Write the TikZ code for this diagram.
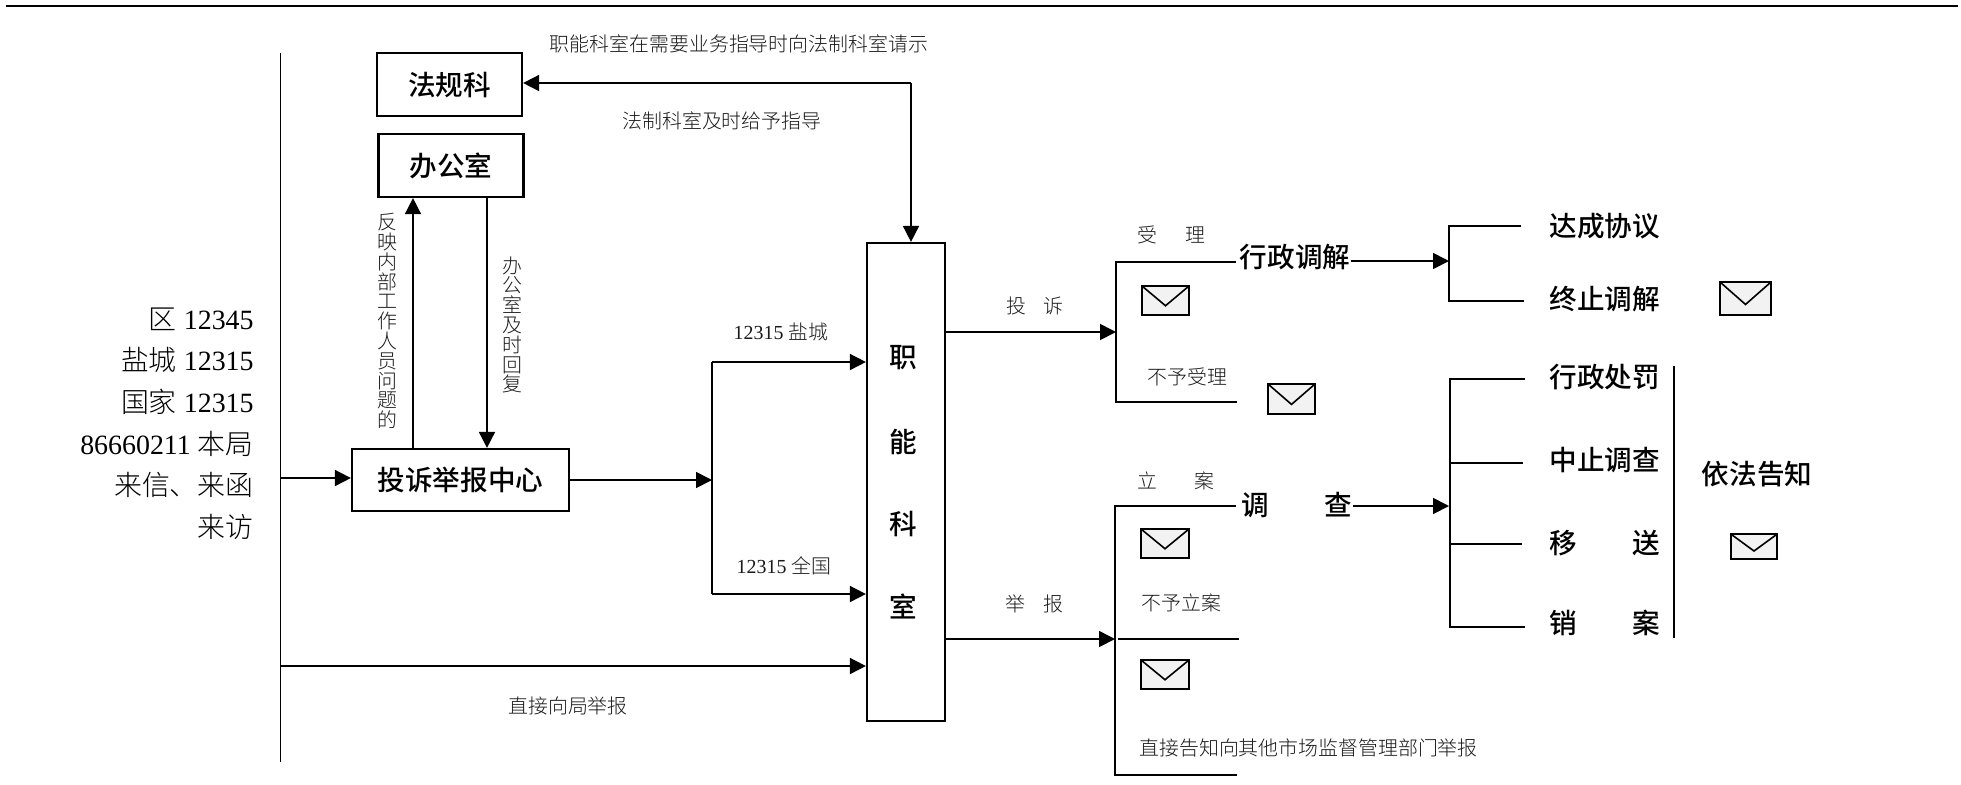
\documentclass[tikz,border=0pt]{standalone}
\usepackage{fontspec}
\setmainfont{Liberation Serif}
\newfontfamily\cjkbig{Noto Sans CJK SC Medium}
\newfontfamily\cjksmall{Noto Sans CJK SC Light}
\usetikzlibrary{arrows.meta,calc}
\newcommand\bigtxt{\fontsize{13.8pt}{16pt}\selectfont\cjkbig}
\newcommand\smalltxt{\fontsize{9.95pt}{12pt}\selectfont\cjksmall}
\tikzset{
  line/.style={draw=black,line width=0.85pt},
  arr/.style={line,-{Triangle[length=8pt,width=8pt]}},
  boxnode/.style={draw=black,line width=1.1pt,fill=white,inner sep=0pt,font=\bigtxt},
  big/.style={inner sep=0pt,font=\bigtxt},
  small/.style={inner sep=0pt,font=\smalltxt,text=black!90},
  envelope/.style n args={2}{draw=black,line width=1.1pt,fill=black!5,inner sep=0pt,
    minimum width=#1*0.5pt,minimum height=#2*0.5pt,
    path picture={\draw[line width=0.8pt]
      (path picture bounding box.north west)
      -- ($(path picture bounding box.south)!0.32!(path picture bounding box.north)$)
      -- (path picture bounding box.north east);}},
}
\begin{document}
\begin{tikzpicture}[x=0.5pt,y=-0.5pt]
\useasboundingbox (0,0) rectangle (1961,784);
\begin{scope}[yshift=-0.5pt]
\coordinate (ruleL) at (6,4.5);
\coordinate (ruleR) at (1958,4.5);
\draw[line width=1pt] (ruleL) -- (ruleR);

% source bar
\coordinate (srcT) at (280.5,52);
\coordinate (srcB) at (280.5,761);
\coordinate (srcA) at (280.5,477);
\coordinate (srcC) at (280.5,665);
\draw[line] (srcT) -- (srcB);
\node[anchor=east,inner sep=0pt,align=right,font=\fontsize{13.95pt}{20.8pt}\selectfont] (sources) at (254,422.5)
 {{\cjksmall 区} 12345\\{\cjksmall 盐城} 12315\\{\cjksmall 国家} 12315\\86660211 {\cjksmall 本局}\\{\cjksmall 来信、来函}\\{\cjksmall 来访}};

% boxes
\node[boxnode,minimum width=72.5pt,minimum height=31.5pt] (fagui) at (449.5,83.5) {法规科};
\node[boxnode,minimum width=72.5pt,minimum height=31.5pt] (bangong) at (451,164.5) {办公室};
\node[boxnode,minimum width=108.5pt,minimum height=31pt] (center) at (460.5,479) {投诉举报中心};
\node[boxnode,minimum width=39pt,minimum height=239pt] (zhineng) at (906,481) {};
\node[big] (zn1) at (903,357) {职};
\node[big] (zn2) at (903,441) {能};
\node[big] (zn3) at (903,523) {科};
\node[big] (zn4) at (903,605) {室};

% left connectors
\draw[arr] (srcA) -- (center.west |- srcA);
\coordinate (upX) at (413,300);
\coordinate (downX) at (487,300);
\draw[arr] (center.north -| upX) -- (bangong.south -| upX);
\draw[arr] (bangong.south -| downX) -- (center.north -| downX);
\node[small,align=center,font=\fontsize{9.95pt}{9.9pt}\selectfont\cjksmall,anchor=north] (vleft) at (387,212) {反\\映\\内\\部\\工\\作\\人\\员\\问\\题\\的};
\node[small,align=center,font=\fontsize{9.95pt}{9.9pt}\selectfont\cjksmall,anchor=north] (vright) at (512,255) {办\\公\\室\\及\\时\\回\\复};

% law link
\coordinate (lawC) at (911,82);
\draw[arr] (lawC) -- (fagui.east |- lawC);
\draw[arr] (lawC) -- (zhineng.north -| lawC);
\node[small,anchor=west] (t1) at (549.5,43) {职能科室在需要业务指导时向法制科室请示};
\node[small,anchor=west] (t2) at (622,120) {法制科室及时给予指导};

% split to zhineng
\coordinate (spT) at (712,361);
\coordinate (spM) at (712,479);
\coordinate (spB) at (712,593);
\draw[line] (spT) -- (spB);
\draw[arr] (center.east |- spM) -- (spM);
\draw[arr] (spT) -- (zhineng.west |- spT);
\draw[arr] (spB) -- (zhineng.west |- spB);
\draw[arr] (srcC) -- (zhineng.west |- srcC);
\node[inner sep=0pt,font=\fontsize{9.95pt}{12pt}\selectfont,text=black!90] (l12315a) at (781,331) {12315 {\cjksmall 盐城}};
\node[inner sep=0pt,font=\fontsize{9.95pt}{12pt}\selectfont,text=black!90] (l12315b) at (784,565) {12315 {\cjksmall 全国}};
\node[small] (direct) at (568,705) {直接向局举报};

% complaint branch
\coordinate (cpT) at (1116,261);
\coordinate (cpM) at (1116,331);
\coordinate (cpB) at (1116,401);
\coordinate (cpTe) at (1236,261);
\coordinate (cpBe) at (1237,401);
\draw[line] (cpTe) -- (cpT) -- (cpB) -- (cpBe);
\draw[arr] (zhineng.east |- cpM) -- (cpM);
\node[small] (tousu) at (1035,305) {投\hspace{9pt}诉};
\node[small] (shouli) at (1171,234) {受\hspace{14pt}理};
\node[small] (bushou) at (1187.5,376) {不予受理};
\node[envelope={47}{29}] (env1) at (1165.5,299.5) {};
\node[envelope={47}{30}] (env2) at (1291.5,398) {};
\node[big] (tiaojie) at (1295,256) {行政调解};

% mediation results
\coordinate (mdT) at (1449,225);
\coordinate (mdM) at (1449,260);
\coordinate (mdB) at (1449,300);
\coordinate (mdTe) at (1521,225);
\coordinate (mdBe) at (1524,300);
\draw[line] (mdTe) -- (mdT) -- (mdB) -- (mdBe);
\draw[arr] (tiaojie.east |- mdM) -- (mdM);
\node[big,anchor=west] (r1) at (1549,225) {达成协议};
\node[big,anchor=west] (r2) at (1549,298) {终止调解};
\node[envelope={51}{33}] (env3) at (1745.5,297.5) {};

% report branch
\coordinate (rpT) at (1115,505);
\coordinate (rpM) at (1115,638);
\coordinate (rpB) at (1115,774);
\coordinate (rpTe) at (1236,505);
\coordinate (rpMs) at (1118,638);
\coordinate (rpMe) at (1239,638);
\coordinate (rpBe) at (1237,774);
\draw[line] (rpTe) -- (rpT) -- (rpB) -- (rpBe);
\draw[line] (rpMs) -- (rpMe);
\draw[arr] (zhineng.east |- rpM) -- (rpM);
\node[small] (jubao) at (1034.5,603) {举\hspace{9pt}报};
\node[small] (lian) at (1176,480) {立\hspace{19pt}案};
\node[small,anchor=west] (bulian) at (1141,602) {不予立案};
\node[small,anchor=west] (zhijie) at (1139,747) {直接告知向其他市场监督管理部门举报};
\node[envelope={48}{29}] (env4) at (1165,542.5) {};
\node[envelope={48}{29}] (env5) at (1165,673.5) {};
\node[big] (diaocha) at (1297,504) {调\hspace{28pt}查};

% investigation results
\coordinate (ivT) at (1450,378);
\coordinate (ivB) at (1450,627);
\coordinate (ivM) at (1449,505);
\coordinate (iv2) at (1450,462);
\coordinate (iv3) at (1450,543);
\coordinate (ivL) at (1450,626);
\coordinate (ivTe) at (1525,378);
\coordinate (iv2e) at (1523,462);
\coordinate (iv3e) at (1522,543);
\coordinate (ivBe) at (1525,626);
\draw[line] (ivTe) -- (ivT) -- (ivB);
\draw[line] (ivL) -- (ivBe);
\draw[line] (iv2) -- (iv2e);
\draw[line] (iv3) -- (iv3e);
\draw[arr] (diaocha.east |- ivM) -- (ivM);
\node[big,anchor=west] (s1) at (1549,376) {行政处罚};
\node[big,anchor=west] (s2) at (1549,459) {中止调查};
\node[big,anchor=west] (s3) at (1549,542) {移\hspace{28pt}送};
\node[big,anchor=west] (s4) at (1549,622) {销\hspace{28pt}案};
\coordinate (noT) at (1674,365);
\coordinate (noB) at (1674,637);
\draw[line] (noT) -- (noB);
\node[big] (notice) at (1757,473) {依法告知};
\node[envelope={46.5}{25}] (env6) at (1754,545.5) {};
\end{scope}
\end{tikzpicture}
\end{document}
